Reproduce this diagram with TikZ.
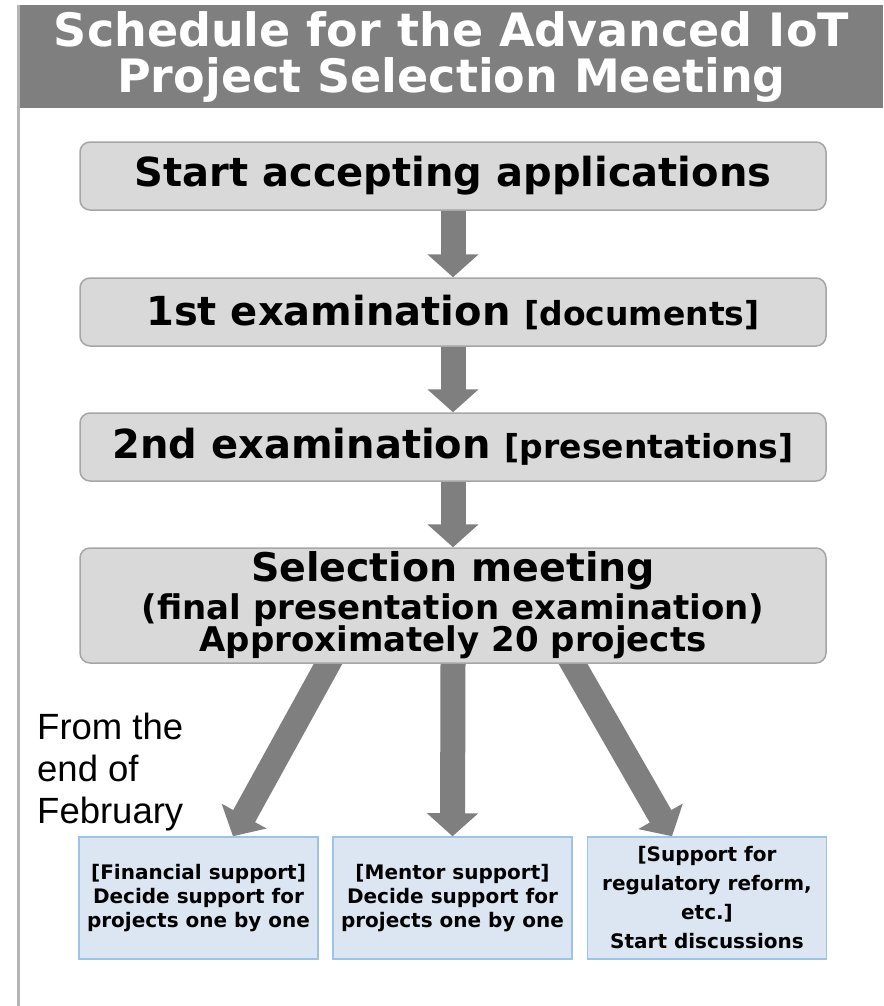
\documentclass[tikz,border=0pt]{standalone}
\usepackage{fontspec}
\setmainfont{DejaVu Sans}
\newfontfamily\plainsans{Liberation Sans}
\usetikzlibrary{arrows.meta,backgrounds,calc}
\definecolor{bargray}{HTML}{7F7F7F}
\definecolor{stepfill}{HTML}{D9D9D9}
\definecolor{stepline}{HTML}{A6A6A6}
\definecolor{flowgray}{HTML}{7F7F7F}
\definecolor{supfill}{HTML}{DCE6F2}
\definecolor{supline}{HTML}{9DC3E6}
\definecolor{rulegray}{HTML}{B4B4B4}

\begin{document}
\begin{tikzpicture}[x=1pt,y=-1pt,
  stepbox/.style={draw=stepline, line width=1.5pt, fill=stepfill,
    rounded corners=10pt, minimum width=746pt, inner sep=0pt, text=black},
  supbox/.style={draw=supline, line width=1.5pt, fill=supfill,
    minimum width=239pt, minimum height=122pt, inner sep=0pt, align=center,
    font=\bfseries\fontsize{20}{24}\selectfont},
  fatarrow/.style={draw=flowgray, line width=25pt,
    -{Triangle[width=50pt,length=23pt]}},
]
\useasboundingbox (0,0) rectangle (883,1006);

% left rule and title bar
\draw[rulegray, line width=2.5pt] (18.5,5) -- (18.5,1006);
\node[fill=bargray, minimum width=863pt, minimum height=103pt, inner sep=0pt,
  text=white, align=center, font=\bfseries\fontsize{46}{46}\selectfont]
  (title) at (451.5,56.5) {Schedule for the Advanced IoT\\Project Selection Meeting};

% process steps
\node[stepbox, minimum height=68pt, font=\bfseries\fontsize{40}{48}\selectfont]
  (s1) at (453,176) {Start accepting applications};
\node[stepbox, minimum height=68pt, font=\bfseries\fontsize{40}{48}\selectfont]
  (s2) at (453,312) {1st examination {\fontsize{33}{40}\selectfont [documents]}};
\node[stepbox, minimum height=68pt, font=\bfseries\fontsize{40}{48}\selectfont]
  (s3) at (453,447) {2nd examination {\fontsize{33}{40}\selectfont [presentations]}};
\node[stepbox, minimum height=115pt, align=center,
  font=\bfseries\fontsize{34}{38}\selectfont]
  (s4) at (453,605.5) {{\fontsize{39.5}{40}\selectfont Selection meeting}\\
  (final presentation examination)\\[-6pt]Approximately 20 projects};

% support outcomes
\node[supbox] (finsup) at (198.5,898)
  {[Financial support]\\Decide support for\\projects one by one};
\node[supbox] (mensup) at (452.5,898)
  {[Mentor support]\\Decide support for\\projects one by one};
\node[supbox, font=\bfseries\fontsize{20}{29}\selectfont] (regsup) at (707,898)
  {[Support for\\regulatory reform,\\etc.]\\Start discussions};

% timing note
\node[font=\plainsans\fontsize{36.5}{42}\selectfont, align=left, anchor=base west,
  inner sep=0pt] (when) at (37,823) {From the\\end of\\February};

% page and flow arrows, behind the boxes
\begin{scope}[on background layer]
  \fill[white] (0,0) rectangle (883,1006);
  \draw[fatarrow] (s1.south) -- (s2.north);
  \draw[fatarrow] (s2.south) -- (s3.north);
  \draw[fatarrow] (s3.south) -- (s4.north);
  \draw[fatarrow] ([xshift=-119.4pt,yshift=10pt]s4.south) -- ([xshift=34.5pt]finsup.north);
  \draw[fatarrow] (s4.south) -- (mensup.north);
  \draw[fatarrow] ([xshift=114.2pt,yshift=10pt]s4.south) -- ([xshift=-35pt]regsup.north);
\end{scope}
\end{tikzpicture}
\end{document}
